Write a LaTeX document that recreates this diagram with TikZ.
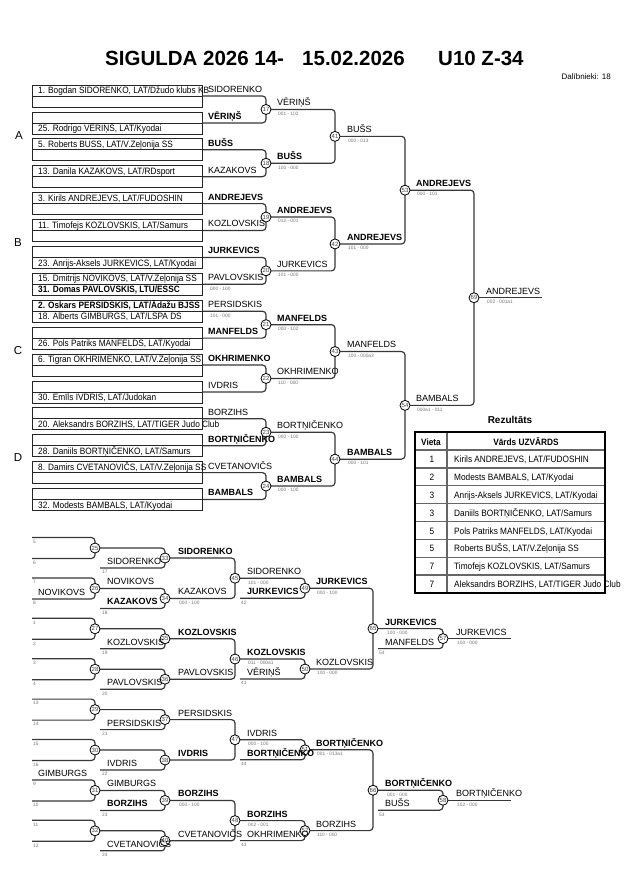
\documentclass[tikz,border=0pt]{standalone}
\usepackage{fontspec}
\setmainfont{Liberation Sans}
\newfontfamily\cf[FakeStretch=0.9]{Liberation Sans}
\usetikzlibrary{backgrounds}
\tikzset{
  br/.style={draw=black!78, line width=1.2pt, rounded corners=3.5pt},
  boxrow/.style={draw=black!85, line width=0.8pt, minimum width=170pt, minimum height=11pt, inner sep=0pt, outer sep=0pt, anchor=north west},
  btxt/.style={anchor=base west, inner sep=0pt, font=\cf\fontsize{9.2}{10}\selectfont},
  btxtb/.style={btxt, font=\cf\bfseries\fontsize{9.2}{10}\selectfont},
  nm/.style={anchor=base west, inner sep=0pt, font=\fontsize{9}{10}\selectfont},
  nmb/.style={anchor=base west, inner sep=0pt, font=\bfseries\fontsize{9}{10}\selectfont},
  sc/.style={anchor=base west, inner sep=0pt, font=\fontsize{4.8}{5}\selectfont, text=black!55},
  mc/.style={circle, draw=black, fill=white, line width=0.8pt, inner sep=0pt, minimum size=10pt, font=\fontsize{6}{6}\selectfont, text=black!75},
  grp/.style={inner sep=0pt, font=\fontsize{11.5}{12}\selectfont},
  ttl/.style={anchor=base west, inner sep=0pt, font=\bfseries\fontsize{20.5}{22}\selectfont},
  tbh/.style={anchor=base, inner sep=0pt, font=\cf\bfseries\fontsize{9.2}{10}\selectfont},
  tbn/.style={anchor=base, inner sep=0pt, font=\cf\fontsize{9.2}{10}\selectfont},
  tbt/.style={anchor=base west, inner sep=0pt, font=\cf\fontsize{9.2}{10}\selectfont},
}
\newcommand\Ab[5]{\node[#1] (#2) at (#3,#4-3.6) {#5};}
\newcommand\Sc[4]{\node[sc] (#1) at (#2,#3+5.8) {#4};}
\begin{document}
\begin{tikzpicture}[x=1pt,y=-1pt]
\useasboundingbox (0,0) rectangle (630,891);

% ---------- header
\node[ttl] (t1) at (105,66) {SIGULDA 2026 14-};
\node[ttl] (t2) at (302,66) {15.02.2026};
\node[ttl] (t3) at (438,66) {U10 Z-34};
\node[anchor=base east, inner sep=0pt, font=\fontsize{8}{9}\selectfont] (dal) at (611,79) {Dalībnieki: 18};

% ---------- group letters
\node[grp] (gA) at (19,136) {A};
\node[grp] (gB) at (18,243) {B};
\node[grp] (gC) at (18,351) {C};
\node[grp] (gD) at (18,458) {D};

% ---------- entry boxes
\foreach \i in {0,...,15}{
  \node[boxrow] (bA\i) at (32,{85+26.9*\i}) {};
  \node[boxrow] (bB\i) at (32,{96+26.9*\i}) {};
}
\node[btxt] (x0) at (38,93.6) {1. Bogdan SIDORENKO, LAT/Džudo klubs KB};
\node[btxt] (x1) at (38,131.5) {25. Rodrigo VĒRIŅŠ, LAT/Kyodai};
\node[btxt] (x2) at (38,147.4) {5. Roberts BUSS, LAT/V.Zeļonija SS};
\node[btxt] (x3) at (38,174.3) {13. Danila KAZAKOVS, LAT/RDsport};
\node[btxt] (x4) at (38,201.2) {3. Kirils ANDREJEVS, LAT/FUDOSHIN};
\node[btxt] (x5) at (38,228.1) {11. Timofejs KOZLOVSKIS, LAT/Samurs};
\node[btxt] (x6) at (38,266) {23. Anrijs-Aksels JURKEVICS, LAT/Kyodai};
\node[btxt] (x7a) at (38,281.9) {15. Dmitrijs NOVIKOVS, LAT/V.Zeļonija SS};
\node[btxtb] (x7b) at (38,292.9) {31. Domas PAVLOVSKIS, LTU/ESSC};
\node[btxtb] (x8a) at (38,308.8) {2. Oskars PERSIDSKIS, LAT/Ādažu BJSS};
\node[btxt] (x8b) at (38,319.8) {18. Alberts GIMBURGS, LAT/LSPA DS};
\node[btxt] (x9) at (38,346.7) {26. Pols Patriks MANFELDS, LAT/Kyodai};
\node[btxt] (x10) at (38,362.6) {6. Tigran OKHRIMENKO, LAT/V.Zeļonija SS};
\node[btxt] (x11) at (38,400.5) {30. Emīls IVDRIS, LAT/Judokan};
\node[btxt] (x12) at (38,427.4) {20. Aleksandrs BORZIHS, LAT/TIGER Judo Club};
\node[btxt] (x13) at (38,454.3) {28. Daniils BORTŅIČENKO, LAT/Samurs};
\node[btxt] (x14) at (38,470.2) {8. Damirs CVETANOVIČS, LAT/V.Zeļonija SS};
\node[btxt] (x15) at (38,508.1) {32. Modests BAMBALS, LAT/Kyodai};

% ---------- main bracket circles
\foreach \n/\y in {17/109.45,18/163.25,19/217.05,20/270.85,21/324.65,22/378.45,23/432.25,24/486.05}
  {\node[mc] (m\n) at (266,\y) {\n};}
\foreach \n/\y in {41/136.35,42/243.95,43/351.55,44/459.15}
  {\node[mc] (m\n) at (335,\y) {\n};}
\node[mc] (m53) at (405,190.15) {53};
\node[mc] (m54) at (405,405.35) {54};
\node[mc] (m69) at (474,297.75) {69};
\coordinate (fin) at (542,297.75);

% ---------- repechage circles
\foreach \n/\y in {25/548.0,26/588.4,27/628.8,28/669.2,29/709.6,30/750.0,31/790.4,32/830.8}
  {\node[mc] (m\n) at (95,\y) {\n};}
\foreach \n/\y in {33/558.0,34/598.4,35/638.8,36/679.2,37/719.6,38/760.0,39/800.4,40/840.8}
  {\node[mc] (m\n) at (165,\y) {\n};}
\foreach \n/\y in {45/578.2,46/659.0,47/739.8,48/820.6}
  {\node[mc] (m\n) at (235,\y) {\n};}
\foreach \n/\y in {49/588.2,50/669.0,51/749.8,52/830.6}
  {\node[mc] (m\n) at (305,\y) {\n};}
\node[mc] (m65) at (373,628.6) {65};
\node[mc] (m66) at (373,790.2) {66};
\node[mc] (m57) at (443,638.6) {57};
\node[mc] (m58) at (443,800.2) {58};
\coordinate (o57) at (511,638.6);
\coordinate (o58) at (511,800.2);

% ---------- connectors (behind)
\begin{pgfonlayer}{background}
\foreach \a/\b/\c in {0/17/1,2/18/3,4/19/5,6/20/7,8/21/9,10/22/11,12/23/13,14/24/15}
  {\draw[br] (bA\a.south east) -| (m\b.center) |- (bA\c.south east);}
\foreach \a/\b/\c in {17/41/18,19/42/20,21/43/22,23/44/24,41/53/42,43/54/44,53/69/54}
  {\draw[br] (m\a.center) -| (m\b.center) |- (m\c.center);}
\draw[br] (m69.center) -- (fin);
% repechage
\foreach \n/\y in {25/548.0,26/588.4,27/628.8,28/669.2,29/709.6,30/750.0,31/790.4,32/830.8}{
  \coordinate (pa\n) at (32,\y-10.5);
  \coordinate (pb\n) at (32,\y+10.5);
  \draw[br] (pa\n) -| (m\n.center) |- (pb\n);
}
\foreach \a/\b/\y in {25/33/568.0,26/34/608.4,27/35/648.8,28/36/689.2,29/37/729.6,30/38/770.0,31/39/810.4,32/40/850.8}{
  \coordinate (q\b) at (100,\y);
  \draw[br] (m\a.center) -| (m\b.center) |- (q\b);
}
\foreach \a/\b/\c in {33/45/34,35/46/36,37/47/38,39/48/40,49/65/50,51/66/52}
  {\draw[br] (m\a.center) -| (m\b.center) |- (m\c.center);}
\foreach \a/\b/\y in {45/49/598.2,46/50/679.0,47/51/759.8,48/52/840.6}{
  \coordinate (q\b) at (240,\y);
  \draw[br] (m\a.center) -| (m\b.center) |- (q\b);
}
\foreach \a/\b/\y in {65/57/648.6,66/58/810.2}{
  \coordinate (q\b) at (378,\y);
  \draw[br] (m\a.center) -| (m\b.center) |- (q\b);
}
\draw[br] (m57.center) -- (o57);
\draw[br] (m58.center) -- (o58);
\end{pgfonlayer}

% ---------- main bracket labels (first round, next to boxes)
\Ab{nm}{l0}{208}{96}{SIDORENKO}
\Ab{nmb}{l1}{208}{122.9}{VĒRIŅŠ}
\Ab{nmb}{l2}{208}{149.8}{BUŠS}
\Ab{nm}{l3}{208}{176.7}{KAZAKOVS}
\Ab{nmb}{l4}{208}{203.6}{ANDREJEVS}
\Ab{nm}{l5}{208}{230.5}{KOZLOVSKIS}
\Ab{nmb}{l6}{208}{257.4}{JURKEVICS}
\Ab{nm}{l7}{208}{284.3}{PAVLOVSKIS} \Sc{s7b}{210}{284.3}{000 - 100}
\Ab{nm}{l8}{208}{311.2}{PERSIDSKIS} \Sc{s8b}{210}{311.2}{101 - 000}
\Ab{nmb}{l9}{208}{338.1}{MANFELDS}
\Ab{nmb}{l10}{208}{365.0}{OKHRIMENKO}
\Ab{nm}{l11}{208}{391.9}{IVDRIS}
\Ab{nm}{l12}{208}{418.8}{BORZIHS}
\Ab{nmb}{l13}{208}{445.7}{BORTŅIČENKO}
\Ab{nm}{l14}{208}{472.6}{CVETANOVIČS}
\Ab{nmb}{l15}{208}{499.5}{BAMBALS}

% round 1 winners
\Ab{nm}{n17}{277}{109.45}{VĒRIŅŠ} \Sc{s17}{278}{109.45}{001 - 102}
\Ab{nmb}{n18}{277}{163.25}{BUŠS} \Sc{s18}{278}{163.25}{100 - 000}
\Ab{nmb}{n19}{277}{217.05}{ANDREJEVS} \Sc{s19}{278}{217.05}{012 - 001}
\Ab{nm}{n20}{277}{270.85}{JURKEVICS} \Sc{s20}{278}{270.85}{101 - 000}
\Ab{nmb}{n21}{277}{324.65}{MANFELDS} \Sc{s21}{278}{324.65}{000 - 102}
\Ab{nm}{n22}{277}{378.45}{OKHRIMENKO} \Sc{s22}{278}{378.45}{110 - 000}
\Ab{nm}{n23}{277}{432.25}{BORTŅIČENKO} \Sc{s23}{278}{432.25}{000 - 100}
\Ab{nmb}{n24}{277}{486.05}{BAMBALS} \Sc{s24}{278}{486.05}{000 - 100}
% round 2
\Ab{nm}{n41}{347}{136.35}{BUŠS} \Sc{s41}{348}{136.35}{000 - 013}
\Ab{nmb}{n42}{347}{243.95}{ANDREJEVS} \Sc{s42}{348}{243.95}{101 - 000}
\Ab{nm}{n43}{347}{351.55}{MANFELDS} \Sc{s43}{348}{351.55}{100 - 000a3}
\Ab{nmb}{n44}{347}{459.15}{BAMBALS} \Sc{s44}{348}{459.15}{000 - 101}
% semis
\Ab{nmb}{n53}{416}{190.15}{ANDREJEVS} \Sc{s53}{417}{190.15}{000 - 101}
\Ab{nm}{n54}{416}{405.35}{BAMBALS} \Sc{s54}{417}{405.35}{000a1 - 011}
% final
\Ab{nm}{n69}{486}{297.75}{ANDREJEVS} \Sc{s69}{487}{297.75}{002 - 001a1}

% ---------- repechage labels
\Sc{k5}{33}{537.5}{5} \Sc{k6}{33}{558.5}{6}
\Sc{k7}{33}{577.9}{7} \Sc{k8}{33}{598.9}{8}
\Sc{k1}{33}{618.3}{1} \Sc{k2}{33}{639.3}{2}
\Sc{k3}{33}{658.7}{3} \Sc{k4}{33}{679.7}{4}
\Sc{k13}{33}{699.1}{13} \Sc{k14}{33}{720.1}{14}
\Sc{k15}{33}{739.5}{15} \Sc{k16}{33}{760.5}{16}
\Sc{k9}{33}{779.9}{9} \Sc{k10}{33}{800.9}{10}
\Sc{k11}{33}{820.3}{11} \Sc{k12}{33}{841.3}{12}
\Ab{nm}{rNov}{38}{598.9}{NOVIKOVS}
\Ab{nm}{rGim}{38}{779.9}{GIMBURGS}

\Ab{nm}{r34t}{107}{588.4}{NOVIKOVS}
\Ab{nm}{r39t}{107}{790.4}{GIMBURGS}
\Ab{nm}{r33b}{107}{568}{SIDORENKO} \Sc{k17}{102}{568}{17}
\Ab{nmb}{r34b}{107}{608.4}{KAZAKOVS} \Sc{k18}{102}{608.4}{18}
\Ab{nm}{r35b}{107}{648.8}{KOZLOVSKIS} \Sc{k19}{102}{648.8}{19}
\Ab{nm}{r36b}{107}{689.2}{PAVLOVSKIS} \Sc{k20}{102}{689.2}{20}
\Ab{nm}{r37b}{107}{729.6}{PERSIDSKIS} \Sc{k21}{102}{729.6}{21}
\Ab{nm}{r38b}{107}{770}{IVDRIS} \Sc{k22}{102}{770}{22}
\Ab{nmb}{r39b}{107}{810.4}{BORZIHS} \Sc{k23}{102}{810.4}{23}
\Ab{nm}{r40b}{107}{850.8}{CVETANOVIČS} \Sc{k24}{102}{850.8}{24}

\Ab{nmb}{r33o}{178}{558}{SIDORENKO}
\Ab{nm}{r34o}{178}{598.4}{KAZAKOVS} \Sc{s34}{179}{598.4}{000 - 100}
\Ab{nmb}{r35o}{178}{638.8}{KOZLOVSKIS}
\Ab{nm}{r36o}{178}{679.2}{PAVLOVSKIS}
\Ab{nm}{r37o}{178}{719.6}{PERSIDSKIS}
\Ab{nmb}{r38o}{178}{760}{IVDRIS}
\Ab{nmb}{r39o}{178}{800.4}{BORZIHS} \Sc{s39}{179}{800.4}{000 - 100}
\Ab{nm}{r40o}{178}{840.8}{CVETANOVIČS}

\Ab{nm}{r45o}{247}{578.2}{SIDORENKO} \Sc{s45}{248}{578.2}{101 - 000}
\Ab{nmb}{r46o}{247}{659}{KOZLOVSKIS} \Sc{s46}{248}{659}{011 - 000a1}
\Ab{nm}{r47o}{247}{739.8}{IVDRIS} \Sc{s47}{248}{739.8}{000 - 100}
\Ab{nmb}{r48o}{247}{820.6}{BORZIHS} \Sc{s48}{248}{820.6}{002 - 001}
\Ab{nmb}{r49b}{247}{598.2}{JURKEVICS} \Sc{k42}{241}{598.2}{42}
\Ab{nm}{r50b}{247}{679}{VĒRIŅŠ} \Sc{k41}{241}{679}{41}
\Ab{nmb}{r51b}{247}{759.8}{BORTŅIČENKO} \Sc{k44}{241}{759.8}{44}
\Ab{nm}{r52b}{247}{840.6}{OKHRIMENKO} \Sc{k43}{241}{840.6}{43}

\Ab{nmb}{r49o}{316}{588.2}{JURKEVICS} \Sc{s49}{317}{588.2}{000 - 100}
\Ab{nm}{r50o}{316}{669}{KOZLOVSKIS} \Sc{s50}{317}{669}{100 - 000}
\Ab{nmb}{r51o}{316}{749.8}{BORTŅIČENKO} \Sc{s51}{317}{749.8}{001 - 013a1}
\Ab{nm}{r52o}{316}{830.6}{BORZIHS} \Sc{s52}{317}{830.6}{110 - 000}

\Ab{nmb}{r65o}{385}{628.6}{JURKEVICS} \Sc{s65}{387}{628.6}{100 - 000}
\Ab{nmb}{r66o}{385}{790.2}{BORTŅIČENKO} \Sc{s66}{387}{790.2}{001 - 000}
\Ab{nm}{r57b}{385}{648.6}{MANFELDS} \Sc{k54}{379}{648.6}{54}
\Ab{nm}{r58b}{385}{810.2}{BUŠS} \Sc{k53}{379}{810.2}{53}

\Ab{nm}{r57o}{456}{638.6}{JURKEVICS} \Sc{s57}{457}{638.6}{100 - 000}
\Ab{nm}{r58o}{456}{800.2}{BORTŅIČENKO} \Sc{s58}{457}{800.2}{102 - 000}

% ---------- results table
\node[anchor=base, inner sep=0pt, font=\bfseries\fontsize{10}{11}\selectfont] (rez) at (510,423) {Rezultāts};
\foreach \k in {0,...,7}
  {\draw[black!60, line width=1.3pt] (415,{450+17.875*\k}) -- (605,{450+17.875*\k});}
\draw[black!60, line width=1.3pt] (447,432) -- (447,593);
\draw[black, line width=1.8pt] (415,432) rectangle (605,593);
\node[tbh] (hv) at (431,445) {Vieta};
\node[tbh] (hn) at (526,445) {Vārds UZVĀRDS};
\node[tbn] (p1) at (432,462.5) {1};
\node[tbt] (w1) at (454,462.5) {Kirils ANDREJEVS, LAT/FUDOSHIN};
\node[tbn] (p2) at (432,480.4) {2};
\node[tbt] (w2) at (454,480.4) {Modests BAMBALS, LAT/Kyodai};
\node[tbn] (p3) at (432,498.3) {3};
\node[tbt] (w3) at (454,498.3) {Anrijs-Aksels JURKEVICS, LAT/Kyodai};
\node[tbn] (p4) at (432,516.1) {3};
\node[tbt] (w4) at (454,516.1) {Daniils BORTŅIČENKO, LAT/Samurs};
\node[tbn] (p5) at (432,534.0) {5};
\node[tbt] (w5) at (454,534.0) {Pols Patriks MANFELDS, LAT/Kyodai};
\node[tbn] (p6) at (432,551.9) {5};
\node[tbt] (w6) at (454,551.9) {Roberts BUŠS, LAT/V.Zeļonija SS};
\node[tbn] (p7) at (432,569.8) {7};
\node[tbt] (w7) at (454,569.8) {Timofejs KOZLOVSKIS, LAT/Samurs};
\node[tbn] (p8) at (432,587.6) {7};
\node[tbt] (w8) at (454,587.6) {Aleksandrs BORZIHS, LAT/TIGER Judo Club};
\end{tikzpicture}
\end{document}
